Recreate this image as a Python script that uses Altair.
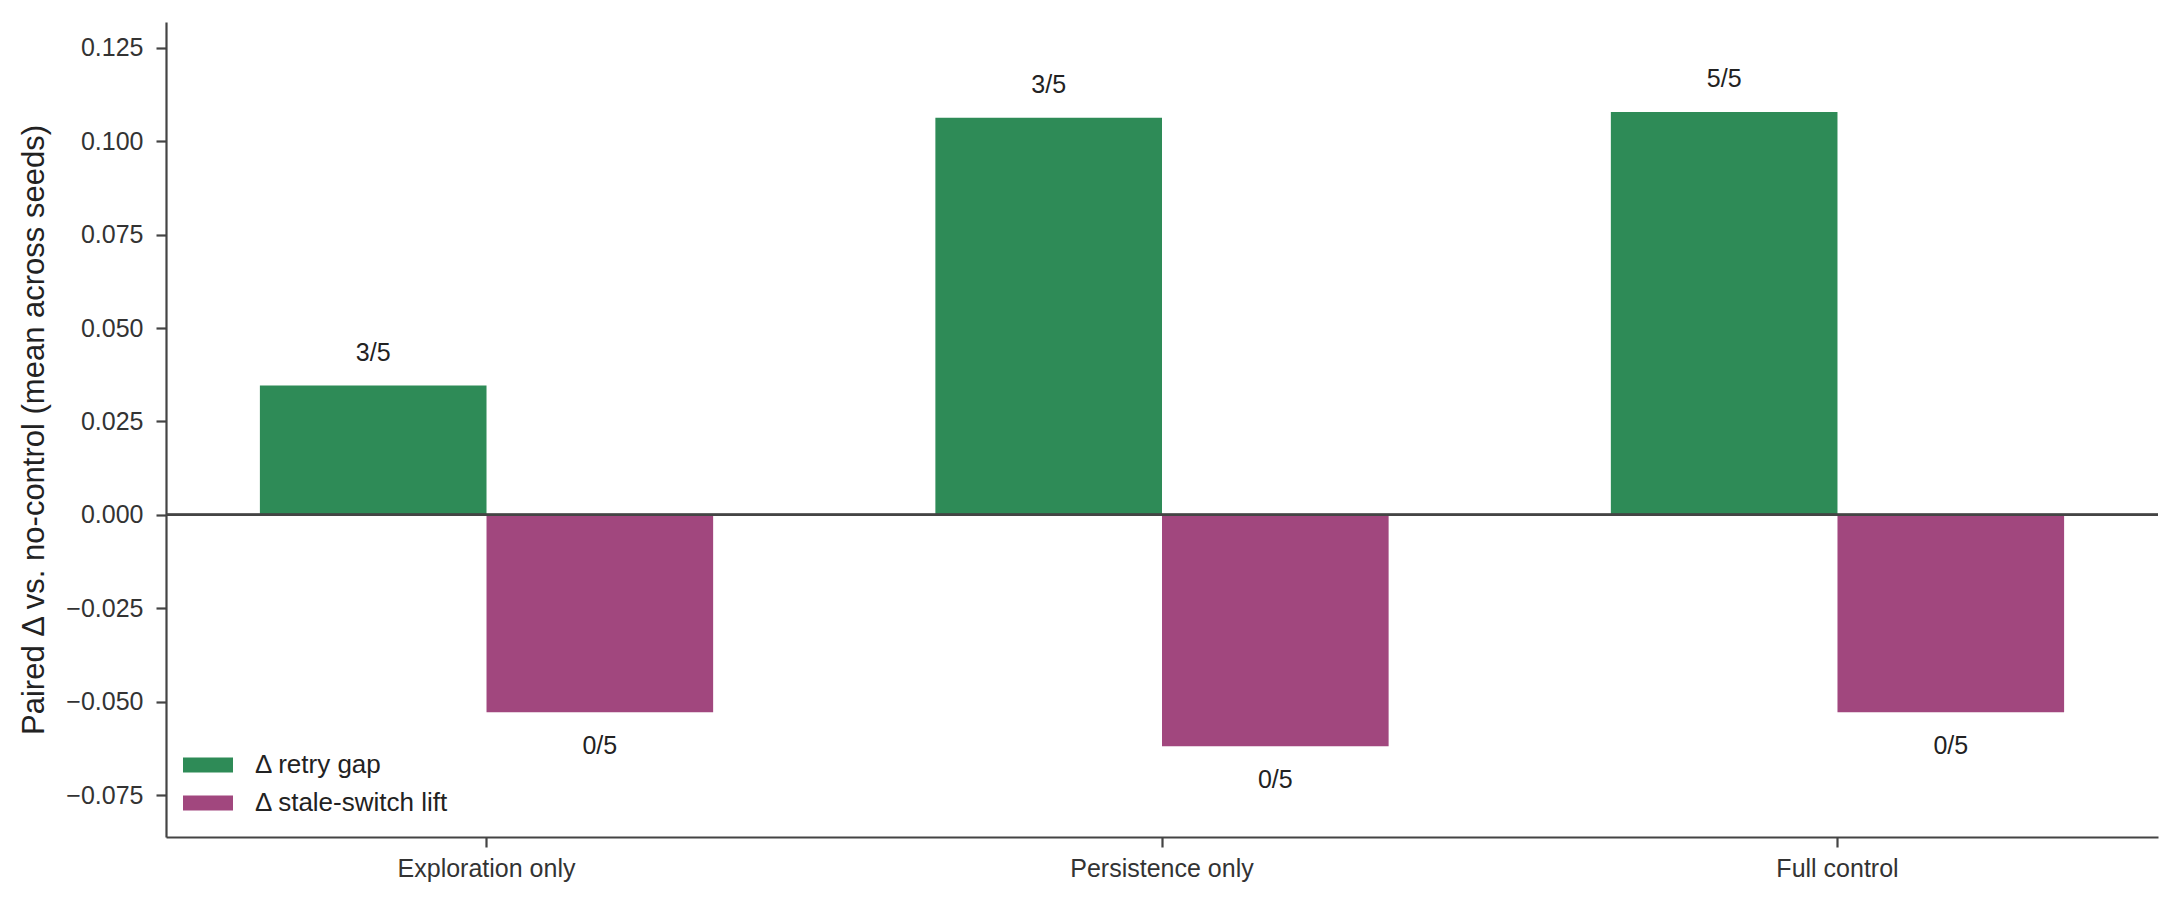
import altair as alt
import pandas as pd

categories = ["Exploration only", "Persistence only", "Full control"]
series = ["Δ retry gap", "Δ stale-switch lift"]
retry_gap = [0.0346, 0.1063, 0.1078]
stale_lift = [-0.0528, -0.0619, -0.0528]
retry_counts = ["3/5", "3/5", "5/5"]
stale_counts = ["0/5", "0/5", "0/5"]
y_ticks = [-0.075, -0.05, -0.025, 0.0, 0.025, 0.05, 0.075, 0.1, 0.125]

rows = []
for c, v, n in zip(categories, retry_gap, retry_counts):
    rows.append({"condition": c, "series": series[0], "value": v, "count": n})
for c, v, n in zip(categories, stale_lift, stale_counts):
    rows.append({"condition": c, "series": series[1], "value": v, "count": n})
df = pd.DataFrame(rows)

FONT = "Liberation Sans"
GREEN = "#2e8b57"
PURPLE = "#a1477e"
AX = "#444444"

x_enc = alt.X(
    "condition:N",
    sort=categories,
    scale=alt.Scale(paddingInner=0.329, paddingOuter=0.139),
    axis=alt.Axis(
        title=None,
        labelAngle=0,
        labelFontSize=25,
        labelFont=FONT,
        labelColor="#333333",
        labelPadding=9,
        labelLimit=0,
        tickSize=10,
        tickWidth=2.2,
        tickColor=AX,
        domainColor=AX,
        domainWidth=2.2,
        grid=False,
    ),
)
xoff_enc = alt.XOffset("series:N", sort=series, scale=alt.Scale(domain=series))
y_scale = alt.Scale(domain=[-0.0862, 0.1319], nice=False, zero=False)

bars = alt.Chart(df).mark_bar(opacity=1).encode(
    x=x_enc,
    xOffset=xoff_enc,
    y=alt.Y(
        "value:Q",
        scale=y_scale,
        axis=alt.Axis(
            title="Paired Δ vs. no-control (mean across seeds)",
            titleFont=FONT,
            titleFontSize=31,
            titleFontWeight="normal",
            titleColor="#222222",
            titleBaseline="alphabetic",
            titleX=-123,
            titleY=407.5,
            titleAngle=270,
            values=y_ticks,
            format=".3f",
            labelFontSize=25,
            labelFont=FONT,
            labelColor="#333333",
            labelPadding=13,
            tickSize=10,
            tickWidth=2.2,
            tickColor=AX,
            domainColor=AX,
            domainWidth=2.2,
            grid=False,
        ),
    ),
    color=alt.Color(
        "series:N",
        sort=series,
        scale=alt.Scale(domain=series, range=[GREEN, PURPLE]),
        legend=alt.Legend(
            title=None,
            orient="none",
            legendX=17,
            legendY=718,
            symbolType="M-1,-0.3H1V0.3H-1Z",
            symbolSize=2500,
            symbolStrokeWidth=0,
            symbolOpacity=1,
            labelFontSize=26,
            labelFont=FONT,
            labelColor="#222222",
            labelOffset=22,
            labelLimit=0,
            rowPadding=0,
            padding=0,
        ),
    ),
)

zero_line = alt.Chart(df).mark_rule(color=AX, strokeWidth=2.2).encode(
    y=alt.datum(0)
)

pos_text = alt.Chart(df).transform_filter("datum.value >= 0").mark_text(
    font=FONT, fontSize=25, color="#222222", baseline="alphabetic", dy=-25
).encode(
    x=alt.X("condition:N", sort=categories),
    xOffset=xoff_enc,
    y=alt.Y("value:Q", scale=y_scale),
    text="count:N",
)

neg_text = alt.Chart(df).transform_filter("datum.value < 0").mark_text(
    font=FONT, fontSize=25, color="#222222", baseline="alphabetic", dy=42
).encode(
    x=alt.X("condition:N", sort=categories),
    xOffset=xoff_enc,
    y=alt.Y("value:Q", scale=y_scale),
    text="count:N",
)

chart = (
    alt.layer(bars, zero_line, pos_text, neg_text)
    .properties(
        width=1992,
        height=815,
        autosize=alt.AutoSizeParams(type="none"),
        padding={"left": 158, "top": 14, "right": 12, "bottom": 50},
        background="white",
    )
    .configure_view(stroke=None)
)

chart.save("out.html", embed_options={"renderer": "svg", "actions": False})
